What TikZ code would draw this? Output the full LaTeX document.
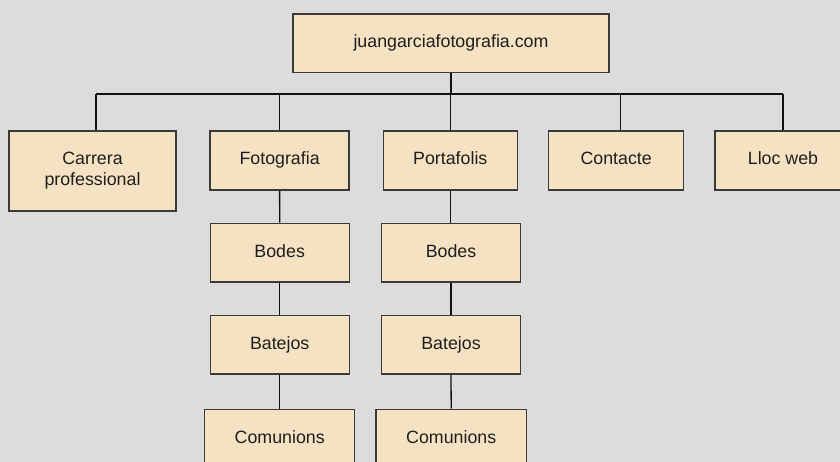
\documentclass[tikz,border=0pt]{standalone}
\usepackage{fontspec}
\setmainfont{Liberation Sans}
\definecolor{bg}{HTML}{DCDCDC}
\definecolor{boxfill}{HTML}{F5E2C2}
\definecolor{boxdraw}{HTML}{3A3A3A}
\definecolor{txt}{HTML}{1E1E1E}
\definecolor{wire}{HTML}{111111}
\begin{document}
\begin{tikzpicture}[x=1pt,y=-1pt,
  box/.style={draw=boxdraw, fill=boxfill, line width=1.3pt, inner sep=0pt,
    text=txt, align=center, font=\fontsize{17.8}{21}\selectfont,
    text height=13pt, text depth=4pt},
  wire/.style={draw=wire, line width=1.3pt}]
\fill[bg] (0,0) rectangle (840,462);
\useasboundingbox (0,0) rectangle (840,462);
\clip (0,0) rectangle (840,462);
% connectors
\coordinate (bL) at (96,94);
\coordinate (bR) at (783,94);
\coordinate (bC) at (620.3,94);
% nodes
\node[box, minimum width=316pt, minimum height=58.7pt] (top) at (451,43.3) {juangarciafotografia.com};
\node[box, minimum width=167pt, minimum height=80pt, text height=34pt] (carrera) at (92.5,171) {Carrera\\professional};
\node[box, minimum width=139pt, minimum height=59pt] (foto) at (279.6,160.5) {Fotografia};
\node[box, minimum width=134pt, minimum height=59pt] (porta) at (450.3,160.5) {Portafolis};
\node[box, minimum width=135pt, minimum height=59pt] (contacte) at (616.2,160.5) {Contacte};
\node[box, minimum width=136pt, minimum height=59pt] (lloc) at (783,160.5) {Lloc web};
\node[box, minimum width=139pt, minimum height=58.7pt] (bodesL) at (279.7,252.7) {Bodes};
\node[box, minimum width=138.6pt, minimum height=58.7pt] (bodesR) at (451,252.7) {Bodes};
\node[box, minimum width=139pt, minimum height=58.7pt] (batL) at (279.7,344.7) {Batejos};
\node[box, minimum width=138.6pt, minimum height=58.7pt] (batR) at (451,344.7) {Batejos};
\node[box, minimum width=150pt, minimum height=59pt] (comL) at (279.7,438.8) {Comunions};
\node[box, minimum width=150.3pt, minimum height=59pt] (comR) at (451.2,438.8) {Comunions};
% wires
\draw[wire] (top.south) -- (top.south |- bL);
\draw[wire] (bL) -- (bR);
\draw[wire] (bL) -- (bL |- carrera.north);
\draw[wire] (foto.north |- bL) -- (foto.north);
\draw[wire] (porta.north |- bL) -- (porta.north);
\draw[wire] (bC) -- (bC |- contacte.north);
\draw[wire] (bR) -- (lloc.north);
\draw[wire] (foto.south) -- (bodesL.north);
\draw[wire] (bodesL.south) -- (batL.north);
\draw[wire] (batL.south) -- (comL.north);
\draw[wire] (porta.south) -- (porta.south |- bodesR.north);
\draw[wire] (bodesR.south) -- (batR.north);
\draw[wire] (batR.south) -- (comR.north);
\end{tikzpicture}
\end{document}
